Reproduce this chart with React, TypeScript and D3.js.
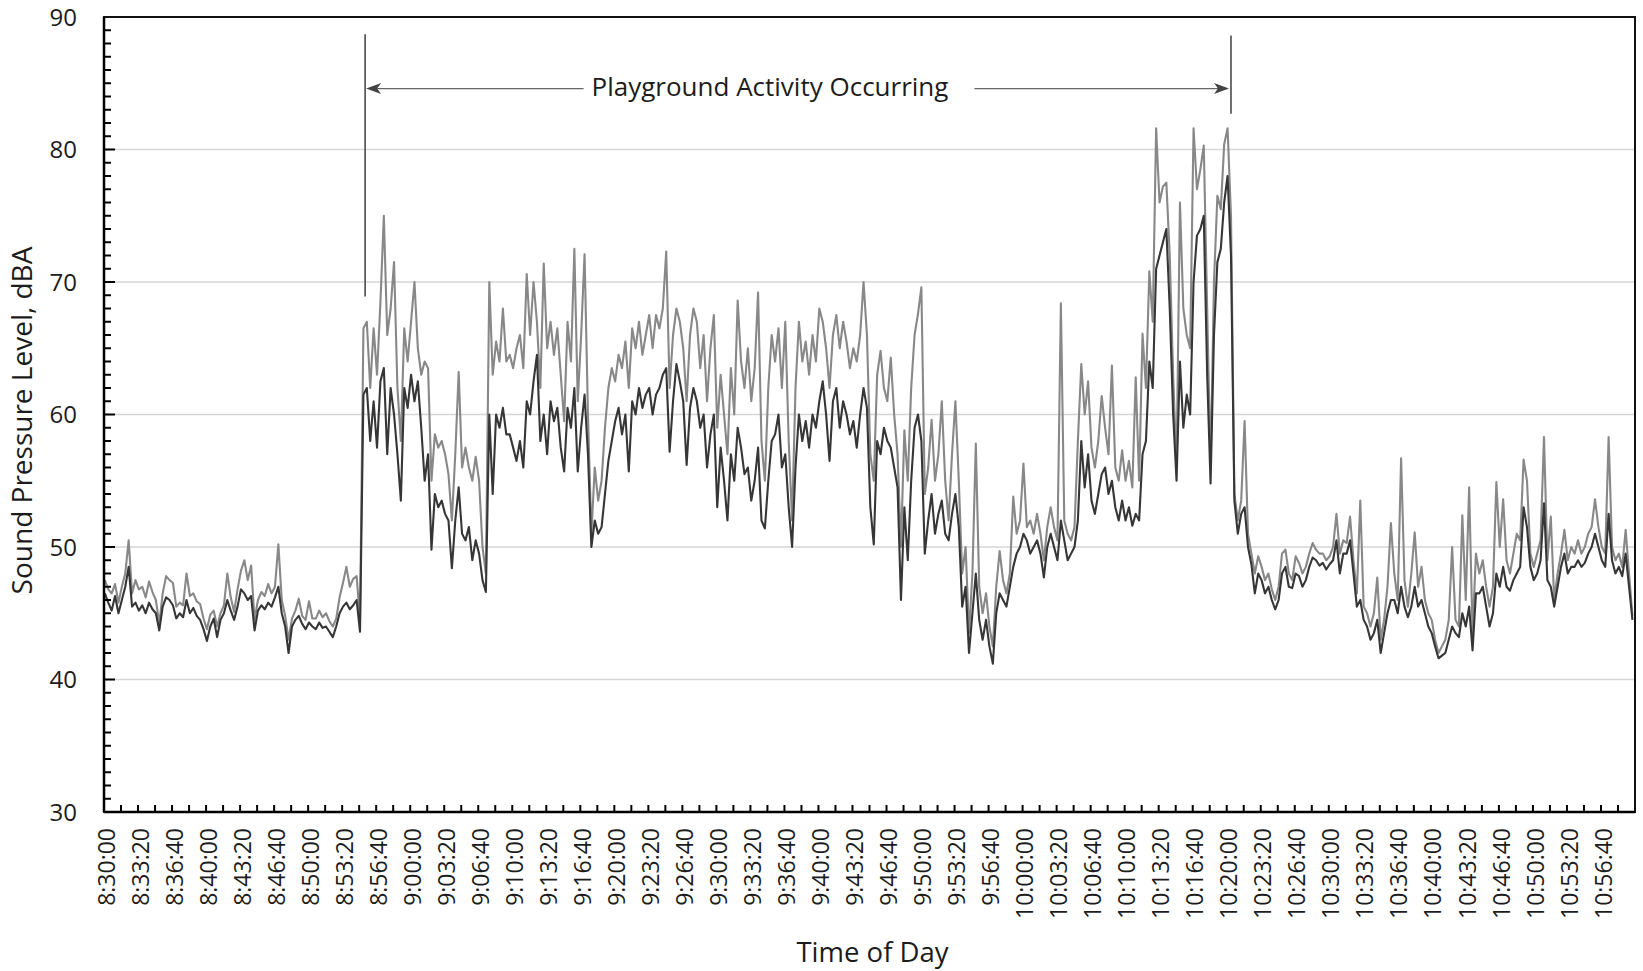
import React, { useEffect, useRef } from 'react';
import * as d3 from 'd3';

const WIDTH = 1643;
const HEIGHT = 971;
const SAMPLE_SEC = 20; // one reading every 20 s, starting 8:30:00

// category labels, one every 200 s
const tickLabels = [
  '8:30:00', '8:33:20', '8:36:40', '8:40:00', '8:43:20', '8:46:40', '8:50:00', '8:53:20', '8:56:40',
  '9:00:00', '9:03:20', '9:06:40', '9:10:00', '9:13:20', '9:16:40', '9:20:00', '9:23:20', '9:26:40',
  '9:30:00', '9:33:20', '9:36:40', '9:40:00', '9:43:20', '9:46:40', '9:50:00', '9:53:20', '9:56:40',
  '10:00:00', '10:03:20', '10:06:40', '10:10:00', '10:13:20', '10:16:40', '10:20:00', '10:23:20',
  '10:26:40', '10:30:00', '10:33:20', '10:36:40', '10:40:00', '10:43:20', '10:46:40', '10:50:00',
  '10:53:20', '10:56:40'
];

const yTicks = [30, 40, 50, 60, 70, 80, 90];

// darker trace (lower level), dBA
const dark = [
  46.5, 45.8, 45.2, 46.3, 45.0, 46.0, 47.0, 48.5, 45.5, 45.8,
  45.2, 45.6, 45.0, 45.8, 45.3, 45.0, 43.7, 45.5, 46.2, 46.0,
  45.6, 44.6, 45.0, 44.7, 46.0, 45.0, 45.4, 44.8, 44.5, 43.8,
  42.9, 44.0, 44.6, 43.2, 44.5, 45.0, 46.0, 45.2, 44.5, 45.5,
  46.8, 46.5, 46.0, 46.3, 43.7, 45.2, 45.6, 45.3, 45.8, 45.5,
  46.2, 47.0, 45.0, 44.0, 42.0, 44.0, 44.5, 44.8, 44.2, 43.8,
  44.3, 44.0, 43.8, 44.3, 43.9, 44.0, 43.6, 43.2, 44.0, 45.0,
  45.5, 45.8, 45.3, 45.6, 46.0, 43.6, 61.5, 62.0, 58.0, 61.0,
  57.5, 62.5, 63.5, 57.0, 62.0, 60.0, 57.0, 53.5, 62.0, 60.5,
  63.0, 61.0, 62.5, 59.0, 55.0, 57.0, 49.8, 54.0, 53.0, 53.5,
  52.5, 52.0, 48.4, 52.0, 54.5, 51.0, 50.5, 51.5, 49.0, 50.5,
  49.5, 47.5, 46.6, 60.0, 54.0, 60.0, 59.0, 60.5, 58.5, 58.5,
  57.5, 56.5, 58.0, 56.0, 61.0, 60.0, 62.5, 64.5, 58.0, 60.0,
  57.0, 61.0, 59.5, 60.5, 57.5, 55.7, 60.5, 59.0, 62.0, 55.7,
  59.0, 61.5, 57.0, 50.0, 52.0, 51.0, 51.5, 54.0, 56.5, 58.0,
  59.5, 60.5, 58.5, 60.0, 55.7, 61.0, 60.0, 62.0, 60.5, 61.5,
  62.0, 60.0, 61.5, 62.0, 63.0, 63.5, 57.2, 61.0, 63.8, 62.5,
  61.0, 56.2, 60.5, 62.0, 61.0, 59.0, 60.0, 56.0, 58.5, 60.0,
  53.0, 57.5, 55.0, 52.0, 57.0, 55.0, 59.0, 57.5, 55.5, 56.0,
  53.5, 55.0, 57.5, 52.0, 51.4, 55.0, 58.0, 58.5, 60.0, 56.0,
  57.0, 53.0, 50.0, 56.0, 60.0, 58.0, 59.5, 57.5, 60.0, 59.0,
  61.0, 62.5, 60.0, 56.5, 61.0, 62.0, 59.0, 61.0, 60.0, 58.5,
  59.5, 57.5, 60.0, 62.0, 60.5, 53.0, 50.2, 58.0, 57.0, 59.0,
  58.0, 57.5, 56.0, 54.5, 46.0, 53.0, 49.0, 55.0, 59.0, 60.0,
  58.0, 49.5, 52.0, 54.0, 51.0, 52.5, 53.5, 51.0, 50.5, 52.5,
  54.0, 51.5, 45.5, 47.0, 42.0, 45.0, 48.0, 44.5, 43.0, 44.5,
  42.5, 41.2, 45.0, 46.5, 46.0, 45.5, 47.0, 48.5, 49.5, 50.0,
  51.0, 50.5, 49.5, 50.0, 50.5, 49.5, 47.7, 50.0, 51.0, 50.0,
  49.0, 52.0, 50.5, 49.0, 49.5, 50.0, 52.0, 58.0, 54.5, 57.0,
  53.5, 52.5, 54.0, 55.5, 56.0, 54.0, 55.0, 53.0, 52.0, 53.5,
  52.0, 53.0, 51.6, 52.5, 52.0, 57.0, 58.0, 64.0, 62.0, 71.0,
  72.0, 73.0, 74.0, 68.0, 60.0, 55.0, 64.0, 59.0, 61.5, 60.0,
  70.0, 73.5, 74.0, 75.0, 63.0, 54.8, 66.0, 71.5, 72.5, 76.0,
  78.0, 72.0, 53.5, 51.0, 52.5, 53.0, 50.0, 48.7, 46.5, 48.0,
  47.5, 46.5, 47.0, 46.0, 45.3, 46.0, 48.0, 48.5, 47.0, 46.9,
  48.0, 47.8, 47.0, 47.5, 48.5, 49.2, 49.0, 48.6, 48.8, 48.3,
  48.7, 49.0, 50.5, 48.0, 49.5, 49.5, 50.5, 48.0, 45.5, 46.0,
  44.5, 44.0, 43.0, 43.5, 44.5, 42.0, 43.5, 45.0, 46.0, 46.0,
  45.0, 47.0, 45.5, 44.7, 45.5, 47.0, 45.5, 46.0, 45.0, 44.0,
  43.5, 42.5, 41.6, 41.8, 42.0, 43.0, 44.0, 43.5, 43.2, 45.0,
  44.0, 45.5, 42.2, 46.5, 46.5, 47.0, 45.5, 44.0, 45.0, 48.0,
  47.0, 48.5, 47.0, 46.7, 47.5, 48.0, 48.5, 53.0, 51.5, 48.5,
  47.5, 48.0, 49.0, 53.3, 47.5, 47.0, 45.5, 47.0, 48.5, 49.5,
  48.0, 48.5, 48.5, 49.0, 48.5, 48.8, 49.5, 50.0, 51.0, 50.0,
  49.0, 48.5, 52.5, 49.0, 48.0, 48.5, 47.8, 49.5, 47.0, 44.5
];

// lighter trace (upper level), dBA
const light = [
  47.5, 46.8, 46.5, 47.2, 45.8, 47.0, 48.0, 50.5, 46.5, 47.5,
  46.8, 47.0, 46.2, 47.4, 46.6, 46.0, 44.2, 46.5, 47.8, 47.5,
  47.3, 45.5, 45.8, 45.6, 48.0, 46.3, 46.5, 45.9, 45.7, 44.6,
  43.8, 44.9, 45.2, 44.0, 45.0, 45.6, 48.0, 46.2, 45.1, 46.8,
  48.2, 49.0, 47.5, 48.6, 44.5, 46.0, 46.6, 46.3, 47.2, 46.5,
  47.0, 50.2, 46.0, 44.8, 43.0, 44.6, 45.2, 46.1, 44.8, 44.5,
  45.9, 44.6, 44.6, 45.2, 44.7, 45.0, 44.4, 44.0, 44.6, 46.2,
  47.3, 48.5, 47.0, 47.6, 47.8, 44.5, 66.5, 67.0, 62.0, 66.5,
  63.0, 68.5, 75.0, 66.0, 68.0, 71.5, 62.0, 58.0, 66.5, 64.0,
  67.0, 70.0, 65.0, 63.0, 64.0, 63.5, 55.0, 58.5, 57.5, 58.0,
  57.0, 55.5, 52.0, 57.0, 63.2, 56.0, 57.5, 56.0, 55.0, 56.8,
  55.0, 50.0, 48.0, 70.0, 63.0, 65.5, 64.0, 68.0, 64.0, 64.5,
  63.5, 65.0, 66.0, 63.5, 70.6, 66.0, 70.0, 67.0, 62.0, 71.4,
  65.0, 67.0, 64.5, 66.5, 63.0, 59.5, 67.0, 64.0, 72.5, 61.0,
  66.0, 72.1, 60.0, 51.0, 56.0, 53.5, 55.0, 59.0, 62.0, 63.5,
  62.5, 64.5, 63.5, 65.5, 62.0, 66.5, 65.0, 67.0, 64.5, 66.0,
  67.5, 65.0, 67.5, 66.5, 68.0, 72.3, 62.0, 66.0, 68.0, 67.0,
  65.0, 61.0, 66.0, 68.0, 67.0, 63.5, 66.0, 61.0, 65.0, 67.5,
  59.0, 63.0, 60.0, 57.0, 63.5, 60.0, 68.6, 64.0, 62.0, 65.0,
  61.0, 63.5, 69.2, 58.0, 55.0, 62.0, 66.0, 64.0, 66.5, 62.0,
  67.0, 58.0, 52.0, 62.0, 67.0, 64.0, 65.5, 63.0, 66.0, 64.0,
  68.0, 67.0, 65.0, 62.0, 66.0, 67.5, 65.0, 67.0, 65.5, 63.5,
  65.0, 64.0, 66.0, 70.0, 66.0, 57.0, 55.0, 63.0, 64.8, 62.0,
  61.0, 64.3, 60.0, 57.0, 50.0, 58.8, 55.0, 62.0, 66.0, 67.6,
  69.6, 54.0, 56.0, 59.6, 55.0, 57.0, 61.0, 55.0, 52.0, 57.0,
  61.0, 55.0, 48.0, 50.0, 43.5, 48.0, 57.8, 47.0, 45.0, 46.5,
  44.0, 42.5, 47.0, 49.7, 47.5, 46.5, 48.0, 53.8, 51.0, 52.0,
  56.3, 51.5, 52.0, 51.0, 52.5, 51.0, 49.0, 51.5, 53.0, 51.5,
  50.5, 68.4, 52.0, 51.0, 50.5, 51.5, 58.0, 63.8, 60.0, 62.5,
  57.5, 56.0, 58.0, 61.4, 59.0, 57.0, 63.7, 56.0, 55.0, 57.3,
  55.0, 56.5, 54.5, 62.8, 55.0, 66.1, 62.0, 70.8, 67.0, 81.6,
  76.0, 77.2, 77.5, 72.0, 63.0, 56.0, 76.0, 68.0, 66.0, 65.0,
  81.6, 77.0, 78.5, 80.3, 68.0, 56.0, 70.0, 76.5, 75.5, 80.4,
  81.6, 75.0, 54.0, 52.0, 53.5, 59.5, 51.0, 49.5, 48.0, 49.3,
  48.5, 47.5, 48.0, 46.8, 46.0, 47.0, 49.5, 49.8, 48.0, 47.5,
  49.3, 48.8, 48.0, 48.5, 49.5, 50.3, 49.8, 49.5, 49.5, 49.0,
  49.3, 50.0, 52.5, 49.5, 50.5, 50.3, 52.3, 49.0, 46.5, 53.5,
  45.5, 45.0, 44.0, 45.0, 47.7, 43.0, 44.5, 47.0, 51.8, 48.0,
  46.0, 56.7, 47.5, 45.5, 48.0, 51.1, 47.0, 48.5, 46.0, 45.0,
  44.5, 43.0, 42.0, 42.5, 43.0, 44.5, 50.0, 44.5, 44.0, 52.4,
  46.0, 54.5, 43.5, 49.5, 48.0, 49.0, 47.0, 45.5, 47.0, 54.9,
  50.0, 53.6, 49.0, 48.0, 49.5, 51.0, 50.5, 56.6, 55.0, 49.5,
  48.5, 49.5, 50.5, 58.3, 49.0, 52.3, 46.0, 48.0, 49.5, 51.3,
  49.0, 50.0, 49.5, 50.5, 49.5, 50.0, 51.0, 51.5, 53.6, 51.5,
  50.0, 49.5, 58.3, 50.0, 49.0, 49.5, 48.5, 51.3, 48.0, 44.8
];

// playground activity window, seconds after 8:30:00, and the level of the arrow (dBA)
const activityStart = 1530;
const activityEnd = 6620;
const activityLabel = 'Playground Activity Occurring';
const arrowLevel = 84.6;
const leftMarkerRange = [68.9, 88.7];
const rightMarkerRange = [82.7, 88.6];

const App = () => {
  const ref = useRef<SVGSVGElement>(null);

  useEffect(() => {
    const svg = d3.select(ref.current);
    svg.selectAll('*').remove(); // start clean

    const margin = { top: 17, right: 8, bottom: 159, left: 104 };
    const font = "'Open Sans', 'DejaVu Sans', sans-serif";
    const ink = '#1c1c1c';

    // category axis: 10 s slots, 900 of them, first slot centred at 8:30:00
    const x = d3.scaleLinear().domain([-5, 8995]).range([margin.left, WIDTH - margin.right]);
    const y = d3.scaleLinear().domain([30, 90]).range([HEIGHT - margin.bottom, margin.top]);
    const [x0, x1] = x.range();
    const [yb, yt] = y.range();

    svg.append('rect').attr('width', WIDTH).attr('height', HEIGHT).attr('fill', '#fff');

    // horizontal grid
    svg.append('g')
      .selectAll('line')
      .data(yTicks.filter(v => v > 30 && v < 90))
      .join('line')
      .attr('x1', x0).attr('x2', x1)
      .attr('y1', d => y(d)).attr('y2', d => y(d))
      .attr('stroke', '#d6d6d6')
      .attr('stroke-width', 1.5);

    // traces
    const line = d3.line<number>()
      .x((_, i) => x(i * SAMPLE_SEC))
      .y(d => y(d));

    svg.append('path')
      .datum(light)
      .attr('fill', 'none')
      .attr('stroke', '#888888')
      .attr('stroke-width', 2.1)
      .attr('stroke-linejoin', 'round')
      .attr('d', line);

    svg.append('path')
      .datum(dark)
      .attr('fill', 'none')
      .attr('stroke', '#363636')
      .attr('stroke-width', 2.1)
      .attr('stroke-linejoin', 'round')
      .attr('d', line);

    // plot frame
    svg.append('rect')
      .attr('x', x0).attr('y', yt)
      .attr('width', x1 - x0).attr('height', yb - yt)
      .attr('fill', 'none')
      .attr('stroke', '#111')
      .attr('stroke-width', 2);

    svg.append('line')
      .attr('x1', x0).attr('x2', x0).attr('y1', yt).attr('y2', yb)
      .attr('stroke', '#000').attr('stroke-width', 2.5);
    svg.append('line')
      .attr('x1', x0).attr('x2', x1).attr('y1', yb).attr('y2', yb)
      .attr('stroke', '#000').attr('stroke-width', 2.5);

    // y ticks, inside: minor each dB, longer on the tens
    svg.append('g')
      .selectAll('line')
      .data(d3.range(31, 90))
      .join('line')
      .attr('x1', x0)
      .attr('x2', d => x0 + (d % 10 === 0 ? 11 : 7))
      .attr('y1', d => y(d)).attr('y2', d => y(d))
      .attr('stroke', '#000')
      .attr('stroke-width', 2);

    // x ticks, inside, every 10 slots
    svg.append('g')
      .selectAll('line')
      .data(d3.range(95, 8995, 100))
      .join('line')
      .attr('x1', d => x(d)).attr('x2', d => x(d))
      .attr('y1', yb).attr('y2', yb - 7)
      .attr('stroke', '#000')
      .attr('stroke-width', 2);

    // y tick labels
    svg.append('g')
      .selectAll('text')
      .data(yTicks)
      .join('text')
      .attr('x', x0 - 27)
      .attr('y', d => y(d))
      .attr('dy', '0.36em')
      .attr('text-anchor', 'end')
      .attr('font-family', font)
      .attr('font-size', 24)
      .attr('fill', ink)
      .text(d => d);

    // x tick labels, rotated
    svg.append('g')
      .selectAll('text')
      .data(tickLabels)
      .join('text')
      .attr('transform', (_, i) => `translate(${x(i * 200) + 1.5},${yb + 16}) rotate(-90)`)
      .attr('dy', '0.36em')
      .attr('text-anchor', 'end')
      .attr('font-family', font)
      .attr('font-size', 23)
      .attr('fill', ink)
      .text(d => d);

    // axis titles
    svg.append('text')
      .attr('transform', `translate(22,${(yt + yb) / 2 + 6}) rotate(-90)`)
      .attr('dy', '0.36em')
      .attr('text-anchor', 'middle')
      .attr('font-family', font)
      .attr('font-size', 28)
      .attr('fill', ink)
      .text('Sound Pressure Level, dBA');

    svg.append('text')
      .attr('x', (x0 + x1) / 2 + 3)
      .attr('y', 962)
      .attr('text-anchor', 'middle')
      .attr('font-family', font)
      .attr('font-size', 27.5)
      .attr('fill', ink)
      .text('Time of Day');

    // activity annotation
    const ann = svg.append('g');
    const xa = x(activityStart);
    const xb = x(activityEnd);
    const ya = y(arrowLevel);
    const markColor = '#4a4a4a';

    ann.append('line')
      .attr('x1', xa).attr('x2', xa)
      .attr('y1', y(leftMarkerRange[1])).attr('y2', y(leftMarkerRange[0]))
      .attr('stroke', markColor).attr('stroke-width', 1.6);
    ann.append('line')
      .attr('x1', xb).attr('x2', xb)
      .attr('y1', y(rightMarkerRange[1])).attr('y2', y(rightMarkerRange[0]))
      .attr('stroke', markColor).attr('stroke-width', 1.6);

    const label = ann.append('text')
      .attr('x', x(3910))
      .attr('y', ya + 7.5)
      .attr('text-anchor', 'middle')
      .attr('font-family', font)
      .attr('font-size', 26)
      .attr('fill', ink)
      .text(activityLabel);

    const box = (label.node() as SVGTextElement).getBBox();

    ann.append('line')
      .attr('x1', xa + 4).attr('x2', box.x - 8)
      .attr('y1', ya).attr('y2', ya)
      .attr('stroke', '#666').attr('stroke-width', 1.3);
    ann.append('line')
      .attr('x1', box.x + box.width + 26).attr('x2', xb - 4)
      .attr('y1', ya).attr('y2', ya)
      .attr('stroke', '#666').attr('stroke-width', 1.3);

    const head = (tip: number, dir: number) =>
      `M${tip},${ya} L${tip + dir * 15},${ya - 5.5} L${tip + dir * 11},${ya} L${tip + dir * 15},${ya + 5.5} Z`;

    ann.append('path').attr('d', head(xa + 1, 1)).attr('fill', '#444');
    ann.append('path').attr('d', head(xb - 2, -1)).attr('fill', '#444');
  }, []);

  return (
    <svg
      ref={ref}
      width={WIDTH}
      height={HEIGHT}
      style={{ position: 'absolute', left: 0, top: 0, display: 'block' }}
    />
  );
};

export default App;
